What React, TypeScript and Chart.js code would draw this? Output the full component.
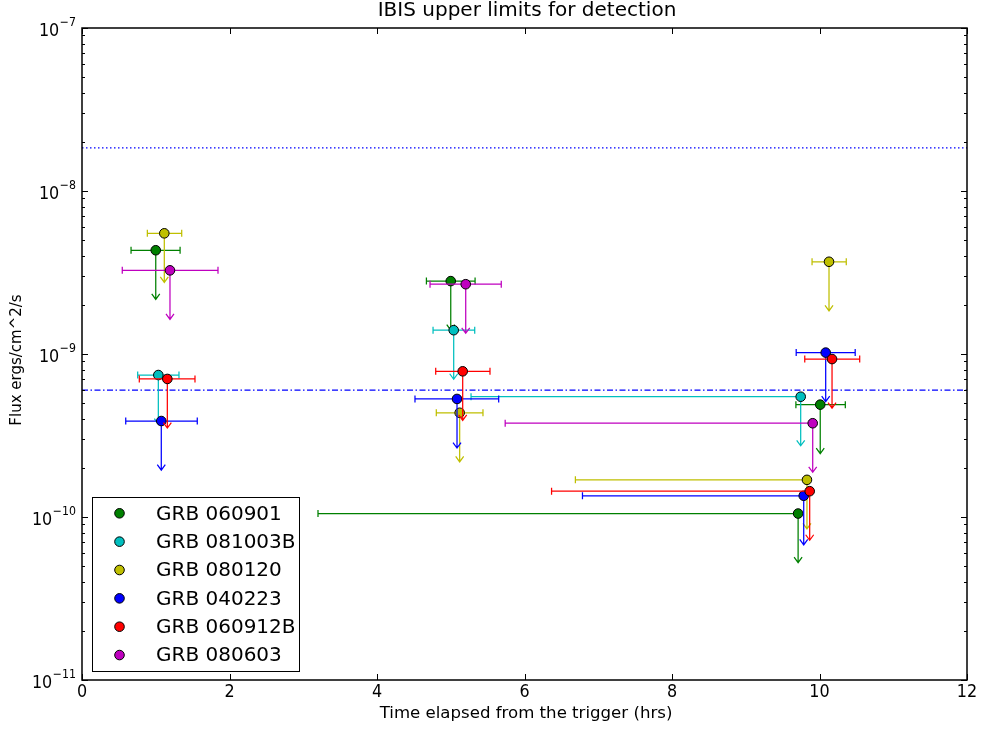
import React, { useEffect, useRef } from 'react';
import { Chart, registerables } from 'chart.js';

Chart.register(...registerables);

// ---- Data -------------------------------------------------------------
const seriesNames = ['GRB 060901', 'GRB 081003B', 'GRB 080120', 'GRB 040223', 'GRB 060912B', 'GRB 080603'];
const seriesColors = ['#008000', '#00bfbf', '#bfbf00', '#0000ff', '#ff0000', '#bf00bf'];

// time (hrs), flux upper limit (erg/cm^2/s), left / right time error
const t060901 = [1.0, 5.0, 10.01, 9.71];
const f060901 = [4.33e-9, 2.8e-9, 4.89e-10, 1.05e-10];
const l060901 = [0.335, 0.33, 0.33, 6.51];
const r060901 = [0.33, 0.33, 0.34, 0];

const t081003B = [1.035, 5.04, 9.745];
const f081003B = [7.43e-10, 1.4e-9, 5.47e-10];
const l081003B = [0.28, 0.28, 4.47];
const r081003B = [0.28, 0.285, 0];

const t080120 = [1.116, 5.121, 10.129, 9.83];
const f080120 = [5.5e-9, 4.36e-10, 3.68e-9, 1.69e-10];
const l080120 = [0.23, 0.317, 0.23, 3.14];
const r080120 = [0.236, 0.316, 0.234, 0];

const t040223 = [1.075, 5.085, 10.084, 9.786];
const f040223 = [3.88e-10, 5.3e-10, 1.02e-9, 1.35e-10];
const l040223 = [0.482, 0.57, 0.4, 3.0];
const r040223 = [0.488, 0.565, 0.4, 0];

const t060912B = [1.157, 5.162, 10.17, 9.867];
const f060912B = [7.03e-10, 7.83e-10, 9.31e-10, 1.44e-10];
const l060912B = [0.38, 0.366, 0.37, 3.5];
const r060912B = [0.375, 0.37, 0.375, 0];

const t080603 = [1.193, 5.203, 9.908];
const f080603 = [3.26e-9, 2.68e-9, 3.76e-10];
const l080603 = [0.647, 0.484, 4.17];
const r080603 = [0.651, 0.482, 0];

const seriesTimes = [t060901, t081003B, t080120, t040223, t060912B, t080603];
const seriesFluxes = [f060901, f081003B, f080120, f040223, f060912B, f080603];
const seriesErrLeft = [l060901, l081003B, l080120, l040223, l060912B, l080603];
const seriesErrRight = [r060901, r081003B, r080120, r040223, r060912B, r080603];

// upper limits: the arrow reaches down to flux * factor
const LIMIT_FACTOR = 0.5;

// reference levels
const dottedLevel = 1.84e-8;
const dashDotLevel = 6.0e-10;
const timeRange = [0, 12];
const fluxRange = [1e-11, 1e-7];

const xTickValues = [0, 2, 4, 6, 8, 10, 12];
const xTickLabels = ['0', '2', '4', '6', '8', '10', '12'];
const yDecades = [1e-11, 1e-10, 1e-9, 1e-8, 1e-7];
const yExponents = ['\u221211', '\u221210', '\u22129', '\u22128', '\u22127'];
const yMinorMultipliers = [2, 3, 4, 5, 6, 7, 8, 9];

const titleText = 'IBIS upper limits for detection';
const xLabelText = 'Time elapsed from the trigger (hrs)';
const yLabelText = 'Flux ergs/cm^2/s';

const FONT = '"DejaVu Sans", "Liberation Sans", sans-serif';
const TEXT_STRETCH = 1.15;

// ---- Plugins ----------------------------------------------------------
const errorBarPlugin = {
  id: 'errorBars',
  beforeDatasetDraw(chart: any, args: any) {
    const ds = chart.data.datasets[args.index];
    const s = ds.seriesIndex;
    if (s === undefined) return;
    const xs = chart.scales.x;
    const ys = chart.scales.y;
    const ctx = chart.ctx;
    ctx.save();
    ctx.strokeStyle = seriesColors[s];
    ctx.lineWidth = 1.25;
    seriesTimes[s].forEach((t: number, i: number) => {
      const f = seriesFluxes[s][i];
      const px = xs.getPixelForValue(t);
      const py = ys.getPixelForValue(f);
      const x0 = xs.getPixelForValue(t - seriesErrLeft[s][i]);
      const x1 = xs.getPixelForValue(t + seriesErrRight[s][i]);
      const yTip = ys.getPixelForValue(f * LIMIT_FACTOR);
      const cap = 3.5;
      ctx.beginPath();
      ctx.moveTo(x0, py);
      ctx.lineTo(x1, py);
      ctx.moveTo(x0, py - cap);
      ctx.lineTo(x0, py + cap);
      ctx.moveTo(x1, py - cap);
      ctx.lineTo(x1, py + cap);
      ctx.moveTo(px, py);
      ctx.lineTo(px, yTip);
      ctx.moveTo(px - 4, yTip - 5.5);
      ctx.lineTo(px, yTip);
      ctx.lineTo(px + 4, yTip - 5.5);
      ctx.stroke();
    });
    ctx.restore();
  },
};

function stretchedText(ctx: CanvasRenderingContext2D, text: string, x: number, y: number) {
  ctx.save();
  ctx.translate(x, y);
  ctx.scale(1, TEXT_STRETCH);
  ctx.fillText(text, 0, 0);
  ctx.restore();
}

const decorPlugin = {
  id: 'decor',
  afterDraw(chart: any) {
    const ctx = chart.ctx;
    const a = chart.chartArea;
    const xs = chart.scales.x;
    const ys = chart.scales.y;
    ctx.save();

    // ticks (inward)
    ctx.strokeStyle = '#000';
    ctx.lineWidth = 1;
    ctx.beginPath();
    xTickValues.forEach((v) => {
      const x = Math.round(xs.getPixelForValue(v)) + 0.5;
      ctx.moveTo(x, a.bottom);
      ctx.lineTo(x, a.bottom - 6);
      ctx.moveTo(x, a.top);
      ctx.lineTo(x, a.top + 6);
    });
    yDecades.forEach((d, k) => {
      const y = Math.round(ys.getPixelForValue(d)) + 0.5;
      ctx.moveTo(a.left, y);
      ctx.lineTo(a.left + 6, y);
      ctx.moveTo(a.right, y);
      ctx.lineTo(a.right - 6, y);
      if (k < yDecades.length - 1) {
        yMinorMultipliers.forEach((m) => {
          const ym = Math.round(ys.getPixelForValue(d * m)) + 0.5;
          ctx.moveTo(a.left, ym);
          ctx.lineTo(a.left + 3, ym);
          ctx.moveTo(a.right, ym);
          ctx.lineTo(a.right - 3, ym);
        });
      }
    });
    ctx.stroke();

    // frame
    ctx.lineWidth = 1.5;
    ctx.strokeRect(a.left, a.top, a.right - a.left, a.bottom - a.top);

    ctx.fillStyle = '#000';

    // x tick labels
    ctx.font = `16px ${FONT}`;
    ctx.textAlign = 'center';
    ctx.textBaseline = 'middle';
    xTickValues.forEach((v, k) => {
      stretchedText(ctx, xTickLabels[k], xs.getPixelForValue(v), 692);
    });

    // y tick labels with superscript exponent (right aligned)
    ctx.textAlign = 'left';
    ctx.textBaseline = 'alphabetic';
    yDecades.forEach((d, k) => {
      const y = ys.getPixelForValue(d);
      ctx.font = `16px ${FONT}`;
      const wBase = ctx.measureText('10').width;
      ctx.font = `11px ${FONT}`;
      const wExp = ctx.measureText(yExponents[k]).width;
      const right = 76;
      const x0 = right - wBase - wExp - 0.5;
      ctx.font = `16px ${FONT}`;
      stretchedText(ctx, '10', x0, y + 8);
      ctx.font = `11px ${FONT}`;
      stretchedText(ctx, yExponents[k], x0 + wBase + 0.5, y - 2);
    });

    // title
    ctx.textAlign = 'center';
    ctx.textBaseline = 'middle';
    ctx.font = `20px ${FONT}`;
    ctx.fillText(titleText, 527, 11);

    // x label
    ctx.font = `16.6px ${FONT}`;
    ctx.fillText(xLabelText, 526, 714);

    // y label
    ctx.save();
    ctx.translate(17, 360);
    ctx.rotate(-Math.PI / 2);
    ctx.font = `15px ${FONT}`;
    ctx.fillText(yLabelText, 0, 0);
    ctx.restore();

    // legend
    const lx = 92, ly = 497, lw = 207, lh = 174;
    ctx.fillStyle = '#fff';
    ctx.fillRect(lx, ly, lw, lh);
    ctx.lineWidth = 1;
    ctx.strokeStyle = '#000';
    ctx.strokeRect(lx + 0.5, ly + 0.5, lw, lh);
    seriesNames.forEach((name, i) => {
      const yy = 513.3 + i * 28.35;
      ctx.beginPath();
      ctx.arc(119.5, yy, 4.8, 0, Math.PI * 2);
      ctx.fillStyle = seriesColors[i];
      ctx.fill();
      ctx.lineWidth = 1;
      ctx.strokeStyle = '#000';
      ctx.stroke();
      ctx.fillStyle = '#000';
      ctx.font = `20px ${FONT}`;
      ctx.textAlign = 'left';
      ctx.textBaseline = 'middle';
      ctx.fillText(name, 156, yy + 1);
    });

    ctx.restore();
  },
};

// ---- Component --------------------------------------------------------
export default function App() {
  const canvasRef = useRef<HTMLCanvasElement | null>(null);

  useEffect(() => {
    if (!canvasRef.current) return;
    Chart.defaults.font.family = FONT;

    const refDatasets = [
      {
        type: 'line' as const,
        data: timeRange.map((t) => ({ x: t, y: dottedLevel })),
        borderColor: '#0000ff',
        borderWidth: 1.2,
        borderDash: [1.5, 2.5],
        pointRadius: 0,
        fill: false,
        order: 100,
      },
      {
        type: 'line' as const,
        data: timeRange.map((t) => ({ x: t, y: dashDotLevel })),
        borderColor: '#0000ff',
        borderWidth: 1.2,
        borderDash: [6, 2.5, 1.5, 2.5],
        pointRadius: 0,
        fill: false,
        order: 100,
      },
    ];

    const seriesDatasets = seriesNames.map((name, i) => ({
      type: 'scatter' as const,
      label: name,
      seriesIndex: i,
      data: seriesTimes[i].map((t, k) => ({ x: t, y: seriesFluxes[i][k] })),
      pointRadius: 4.8,
      pointBackgroundColor: seriesColors[i],
      pointBorderColor: '#000',
      pointBorderWidth: 1,
      showLine: false,
      order: 10 - i,
    }));

    const chart = new Chart(canvasRef.current, {
      type: 'scatter',
      data: { datasets: [...refDatasets, ...seriesDatasets] as any },
      options: {
        animation: false,
        responsive: false,
        events: [],
        layout: { padding: { top: 28, right: 15, left: 0, bottom: 0 } },
        plugins: {
          legend: { display: false },
          tooltip: { enabled: false },
          title: { display: false },
        },
        scales: {
          x: {
            type: 'linear',
            min: timeRange[0],
            max: timeRange[1],
            grid: { display: false },
            border: { display: false },
            ticks: { display: false, stepSize: 2 },
            afterFit(scale: any) {
              scale.height = 51;
            },
          },
          y: {
            type: 'logarithmic',
            min: fluxRange[0],
            max: fluxRange[1],
            grid: { display: false },
            border: { display: false },
            ticks: { display: false },
            afterFit(scale: any) {
              scale.width = 82;
            },
          },
        },
      } as any,
      plugins: [errorBarPlugin, decorPlugin],
    });
    return () => chart.destroy();
  }, []);

  return (
    <div style={{ position: 'absolute', left: 0, top: 0, width: 982, height: 731, background: '#fff' }}>
      <canvas ref={canvasRef} width={982} height={731} style={{ display: 'block' }} />
    </div>
  );
}
